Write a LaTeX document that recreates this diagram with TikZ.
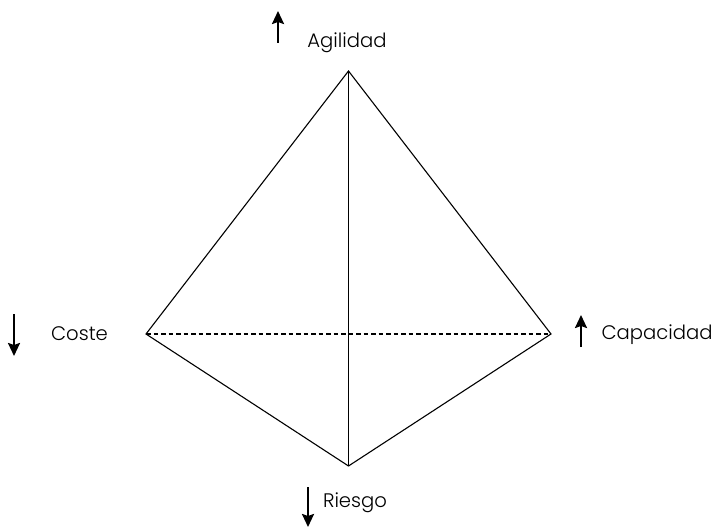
\documentclass[tikz,border=0pt]{standalone}
\usepackage{fontspec}
\setmainfont{Poppins}[UprightFont=* Light]
\usetikzlibrary{arrows.meta}
\tikzset{
  edgeline/.style={line width=1.1pt},
  trendarrow/.style={line width=2.3pt,-{Stealth[length=13pt,width=12pt,inset=2pt]}},
  axislabel/.style={inner sep=0pt,font=\fontsize{19.6}{22}\selectfont}
}
\begin{document}
\begin{tikzpicture}[x=1pt,y=-1pt]
  \useasboundingbox (0,0) rectangle (713,527);
  \coordinate (top) at (348.5,71);
  \coordinate (left) at (146,334);
  \coordinate (right) at (551,334);
  \coordinate (bottom) at (348.5,466);
  \draw[edgeline] (left) -- (top) -- (right) -- (bottom) -- cycle;
  \draw[edgeline] (top) -- (bottom);
  \draw[edgeline,dash pattern=on 4.5pt off 3pt] (left) -- (right);
  \node[axislabel] (agilidad) at (347,43) {Agilidad};
  \node[axislabel] (coste) at (79.5,334) {Coste};
  \node[axislabel] (capacidad) at (657,335) {Capacidad};
  \node[axislabel] (riesgo) at (355,503) {Riesgo};
  \foreach \name/\xa/\ya/\xb/\yb in {agilidad/278/43/278/11,coste/14/314/14/356,capacidad/581/347/581/315,riesgo/308/487/308/527} {
    \coordinate (\name from) at (\xa,\ya);
    \coordinate (\name to) at (\xb,\yb);
    \draw[trendarrow] (\name from) -- (\name to);
  }
\end{tikzpicture}
\end{document}
